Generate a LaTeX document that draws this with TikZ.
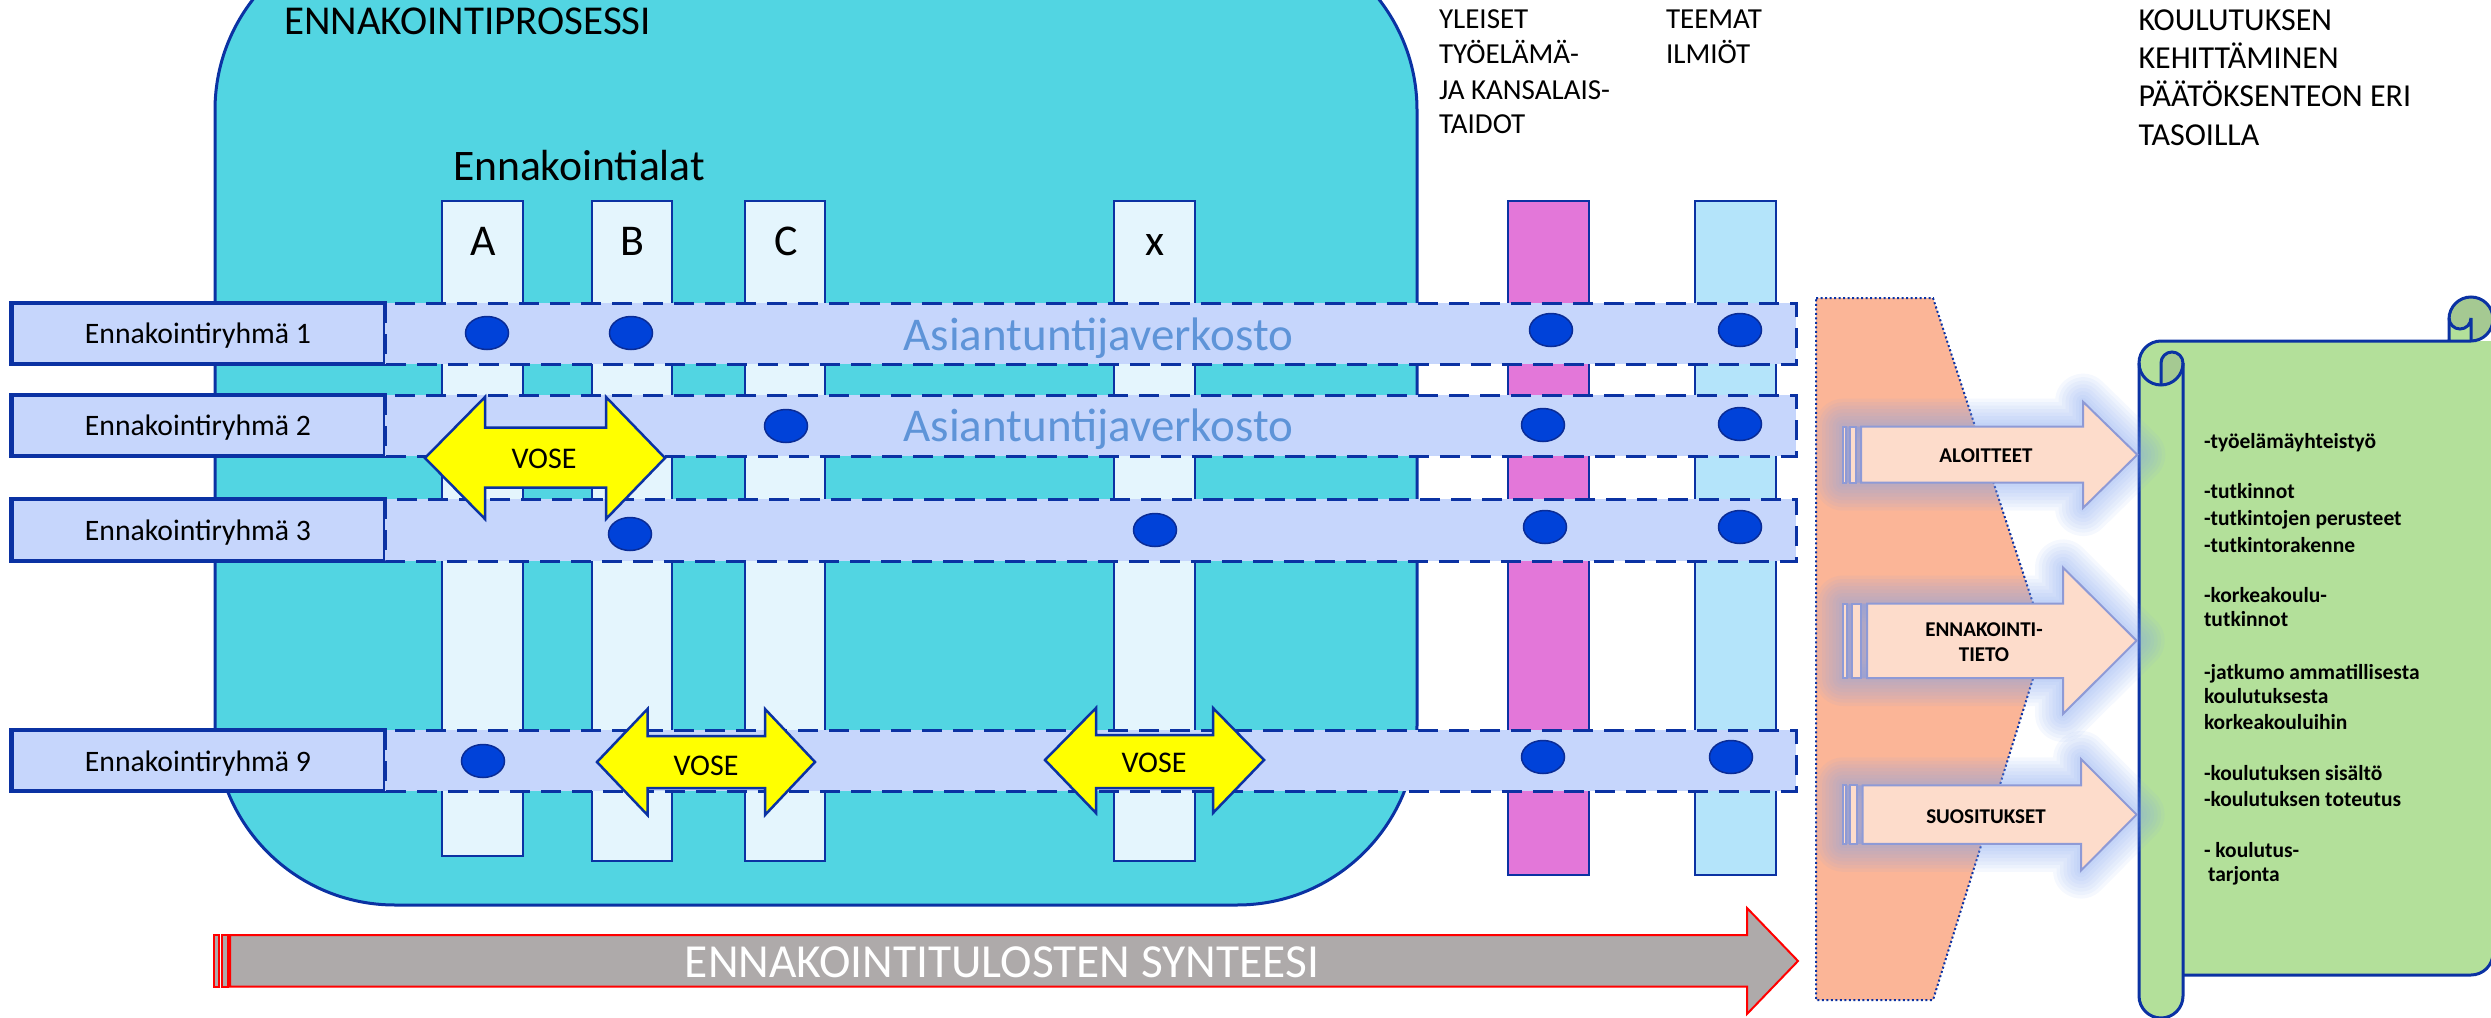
\documentclass[tikz,border=0pt]{standalone}
\usepackage{fontspec}
\setmainfont{Carlito}
\definecolor{tealbg}{HTML}{52D5E2}
\definecolor{bdr}{HTML}{0B32A3}
\definecolor{rowfill}{HTML}{C6D6FC}
\definecolor{colfill}{HTML}{E4F5FD}
\definecolor{pinkcol}{HTML}{E377D9}
\definecolor{bluecol}{HTML}{B4E4FA}
\definecolor{dotfill}{HTML}{0042D9}
\definecolor{dotbdr}{HTML}{0A2C96}
\definecolor{netcol}{HTML}{5E94D8}
\definecolor{vosec}{HTML}{FFFF00}
\definecolor{greyc}{HTML}{AEAAAA}
\definecolor{redc}{HTML}{FF0000}
\definecolor{peach}{HTML}{FBB597}
\definecolor{salmon}{HTML}{FDDCCB}
\definecolor{salbdr}{HTML}{8E9AD6}
\definecolor{glowc}{HTML}{7FA2EE}
\definecolor{scrollg}{HTML}{B3E09A}
\definecolor{scrolld}{HTML}{A5C992}
\begin{document}
\begin{tikzpicture}[x=0.1mm,y=-0.1mm,
  colbox/.style={fill=colfill,draw=bdr,line width=0.2mm},
  grpbox/.style={fill=rowfill,draw=bdr,line width=0.45mm},
  band/.style={fill=rowfill,draw=bdr,line width=0.3mm,dash pattern=on 2mm off 1.1mm},
  dotmark/.style={fill=dotfill,draw=dotbdr,line width=0.15mm},
  vosearr/.style={fill=vosec,draw=bdr,line width=0.25mm},
  greyarr/.style={fill=greyc,draw=redc,line width=0.2mm},
  salarr/.style={fill=salmon,draw=salbdr,line width=0.2mm},
  glowing/.style={draw=glowc,fill=glowc,opacity=0.075,line join=round},
  scrl/.style={draw=bdr,line width=0.3mm},
  txt/.style={inner sep=0pt,outer sep=0pt},
  titlef/.style={font={\fontsize{11.67}{14}\selectfont}},
  alatf/.style={font={\fontsize{12.4}{15}\selectfont}},
  letf/.style={font={\fontsize{12.5}{15}\selectfont}},
  rowf/.style={font={\fontsize{8.45}{10}\selectfont}},
  netf/.style={font={\fontsize{13.37}{16}\selectfont},text=netcol},
  vosef/.style={font={\fontsize{8.54}{10}\selectfont}},
  topf/.style={font={\fontsize{8.25}{10}\selectfont}},
  koulf/.style={font={\fontsize{9.1}{11}\selectfont}},
  salf/.style={font={\bfseries\fontsize{5.98}{7}\selectfont}},
  scrf/.style={font={\bfseries\fontsize{6.12}{7}\selectfont}},
]
\useasboundingbox (0,0) rectangle (2491,1018);
\clip (0,0) rectangle (2491,1018);

% big process area
\draw[fill=tealbg,draw=bdr,line width=0.3mm]
  (215,110) -- (215,725) .. controls (215,824.4) and (295.6,905) .. (395,905)
  -- (1237,905) .. controls (1336.4,905) and (1417,824.4) .. (1417,725)
  -- (1417,110) .. controls (1417,10.6) and (1336.4,-70) .. (1237,-70)
  -- (395,-70) .. controls (295.6,-70) and (215,10.6) .. (215,110) -- cycle;
\node[txt,titlef,anchor=base west] (title) at (284,34.3) {ENNAKOINTIPROSESSI};
\node[txt,alatf,anchor=base west] (alat) at (453,180) {Ennakointialat};

% columns
\draw[colbox] (442,201) rectangle (523,856);
\draw[colbox] (592,201) rectangle (672,861);
\draw[colbox] (745,201) rectangle (825,861);
\draw[colbox] (1114,201) rectangle (1195,861);
\draw[fill=pinkcol,draw=bdr,line width=0.2mm] (1508,201) rectangle (1589,875);
\draw[fill=bluecol,draw=bdr,line width=0.2mm] (1695,201) rectangle (1776,875);
\node[txt,letf,anchor=base] (colA) at (483,255) {A};
\node[txt,letf,anchor=base] (colB) at (632,255) {B};
\node[txt,letf,anchor=base] (colC) at (786,255) {C};
\node[txt,letf,anchor=base] (colX) at (1155,255) {x};

% rows
\draw[grpbox] (11.5,303) rectangle (385,364);
\draw[grpbox] (11.5,395) rectangle (385,456);
\draw[grpbox] (11.5,499) rectangle (385,561);
\draw[grpbox] (11.5,730) rectangle (385,791);
\draw[band] (385,303) rectangle (1796,364);
\draw[band] (385,395) rectangle (1796,456);
\draw[band] (385,499) rectangle (1796,561);
\draw[band] (385,730) rectangle (1796,791);
\node[txt,rowf,anchor=base] (g1) at (198,343.6) {Ennakointiryhmä 1};
\node[txt,rowf,anchor=base] (g2) at (198,435.5) {Ennakointiryhmä 2};
\node[txt,rowf,anchor=base] (g3) at (198,540) {Ennakointiryhmä 3};
\node[txt,rowf,anchor=base] (g9) at (198,771) {Ennakointiryhmä 9};

\node[txt,netf,anchor=base west] (net1) at (903.5,350) {Asiantuntijaverkosto};
\node[txt,netf,anchor=base west] (net2) at (903.5,441) {Asiantuntijaverkosto};

% dots
\foreach \px/\py in {487/333,631/333,1551/330,1740/330,
                     786/426,1543/425,1740/424,
                     630/534,1155/530,1545/527,1740/527,
                     483/761,1543/757,1731/757}
  \draw[dotmark] (\px,\py) ellipse [x radius=21.5,y radius=16.5];

% VOSE arrows
\draw[vosearr] (425,458) -- (485,397) -- (485,427.5) -- (606,427.5) -- (606,397) -- (665,458)
  -- (606,519) -- (606,487.5) -- (485,487.5) -- (485,519) -- cycle;
\draw[vosearr] (597,762) -- (647.5,709) -- (647.5,736) -- (765,736) -- (765,709) -- (815,762)
  -- (765,815) -- (765,788) -- (647.5,788) -- (647.5,815) -- cycle;
\draw[vosearr] (1045,760) -- (1096,708) -- (1096,735) -- (1213,735) -- (1213,708) -- (1264,760)
  -- (1213,813) -- (1213,788) -- (1096,788) -- (1096,813) -- cycle;
\node[txt,vosef,anchor=base] (vose1) at (544,468.6) {VOSE};
\node[txt,vosef,anchor=base] (vose2) at (706,775) {VOSE};
\node[txt,vosef,anchor=base] (vose3) at (1154,772) {VOSE};

% top texts
\foreach \yy/\tx [count=\i] in {28.6/YLEISET,63.2/TYÖELÄMÄ-,99/JA KANSALAIS-,133/TAIDOT}
  \node[txt,topf,anchor=base west] (yl\i) at (1439,\yy) {\tx};
\foreach \yy/\tx [count=\i] in {28.6/TEEMAT,63.2/ILMIÖT}
  \node[txt,topf,anchor=base west] (te\i) at (1666,\yy) {\tx};
\foreach \yy/\tx [count=\i] in {30.4/KOULUTUKSEN,68.6/KEHITTÄMINEN,107/PÄÄTÖKSENTEON ERI,145/TASOILLA}
  \node[txt,koulf,anchor=base west] (ko\i) at (2138.5,\yy) {\tx};

% synthesis arrow
\draw[greyarr] (214.3,935) rectangle (219.3,986.7);
\draw[greyarr] (222,935) rectangle (227.7,986.7);
\draw[greyarr] (230,935) -- (1747,935) -- (1747,908) -- (1798,961) -- (1747,1014) -- (1747,986.7) -- (230,986.7) -- cycle;
\node[txt,font={\fontsize{13.5}{16}\selectfont},text=white,anchor=base] (synt) at (1002,977) {ENNAKOINTITULOSTEN SYNTEESI};

% funnel
\draw[fill=peach,draw=bdr,line width=0.2mm,dash pattern=on 0.2mm off 0.25mm]
  (1816,298) -- (1933,298) -- (2045,640) -- (1933,1000) -- (1816,1000) -- cycle;

% scroll fills
\fill[scrollg] (2161,341) -- (2493,341) -- (2493,953) arc[start angle=0,end angle=90,radius=22] -- (2161,975) -- cycle;
\fill[scrolld] (2471,318) circle [radius=22];
\fill[scrollg] (2449,318) arc[start angle=180,end angle=0,radius=11] -- (2471,341) -- (2449,341) -- cycle;
\fill[scrollg] (2139,363) rectangle (2183,996);
\fill[scrollg] (2161,996) circle [radius=22];
\fill[scrollg] (2161,363) circle [radius=22];
\fill[scrolld] (2161,385) -- (2161,363) arc[start angle=180,end angle=360,radius=11] arc[start angle=0,end angle=90,radius=22] -- cycle;
% scroll strokes
\draw[scrl] (2161,341) -- (2471,341) arc[start angle=90,end angle=0,radius=22] arc[start angle=0,end angle=-180,radius=22] -- (2449,341);
\draw[scrl] (2493,318) -- (2493,953) arc[start angle=0,end angle=90,radius=22] -- (2183,975);
\draw[scrl] (2449,318) arc[start angle=180,end angle=0,radius=11] -- (2471,341);
\draw[scrl] (2183,363) -- (2183,996) arc[start angle=0,end angle=180,radius=22] -- (2139,363) arc[start angle=180,end angle=270,radius=22];
\draw[scrl] (2139,363) arc[start angle=180,end angle=0,radius=22];
\draw[scrl] (2161,385) -- (2161,363) arc[start angle=180,end angle=360,radius=11];

% scroll text
\foreach \xx/\yy/\tx [count=\i] in {
  2204/448/{-työelämäyhteistyö},
  2204/498/{-tutkinnot},
  2204/525/{-tutkintojen perusteet},
  2204/552/{-tutkintorakenne},
  2204/602/{-korkeakoulu-},
  2204/626.5/{tutkinnot},
  2204/679/{-jatkumo ammatillisesta},
  2204/703.7/{koulutuksesta},
  2204/729.5/{korkeakouluihin},
  2204/780/{-koulutuksen sisältö},
  2204/806/{-koulutuksen toteutus},
  2204/857.5/{- koulutus-},
  2208/881.5/{tarjonta}}
  \node[txt,scrf,anchor=base west] (sc\i) at (\xx,\yy) {\tx};

% glows
\foreach \w in {5.6,4.9,4.2,3.5,2.8,2.1,1.4,0.8}{
  \draw[glowing,line width=\w mm] (1843,426.7) -- (2083,426.7) -- (2083,401.7) -- (2137.3,454.7) -- (2083,508) -- (2083,482.7) -- (1843,482.7) -- cycle;
  \draw[glowing,line width=\w mm] (1843,603.5) -- (2063,603.5) -- (2063,567.5) -- (2136.6,640.7) -- (2063,714) -- (2063,678) -- (1843,678) -- cycle;
  \draw[glowing,line width=\w mm] (1843,785.4) -- (2081,785.4) -- (2081,759) -- (2136.6,814.6) -- (2081,870.5) -- (2081,843.8) -- (1843,843.8) -- cycle;
}
% output arrows
\draw[salarr] (1843,426.7) rectangle (1846,482.7);
\draw[salarr] (1850,426.7) rectangle (1856,482.7);
\draw[salarr] (1861,426.7) -- (2083,426.7) -- (2083,401.7) -- (2137.3,454.7) -- (2083,508) -- (2083,482.7) -- (1861,482.7) -- cycle;
\draw[salarr] (1843,603.5) rectangle (1847,678);
\draw[salarr] (1852,603.5) rectangle (1861,678);
\draw[salarr] (1867,603.5) -- (2063,603.5) -- (2063,567.5) -- (2136.6,640.7) -- (2063,714) -- (2063,678) -- (1867,678) -- cycle;
\draw[salarr] (1843,785.4) rectangle (1846,843.8);
\draw[salarr] (1850,785.4) rectangle (1857,843.8);
\draw[salarr] (1862.5,785.4) -- (2081,785.4) -- (2081,759) -- (2136.6,814.6) -- (2081,870.5) -- (2081,843.8) -- (1862.5,843.8) -- cycle;
\node[txt,salf,anchor=base] (alo) at (1986,462.7) {ALOITTEET};
\node[txt,salf,anchor=base] (enn1) at (1984,636) {ENNAKOINTI-};
\node[txt,salf,anchor=base] (enn2) at (1984,661) {TIETO};
\node[txt,salf,anchor=base] (suo) at (1986,823) {SUOSITUKSET};
\end{tikzpicture}
\end{document}
